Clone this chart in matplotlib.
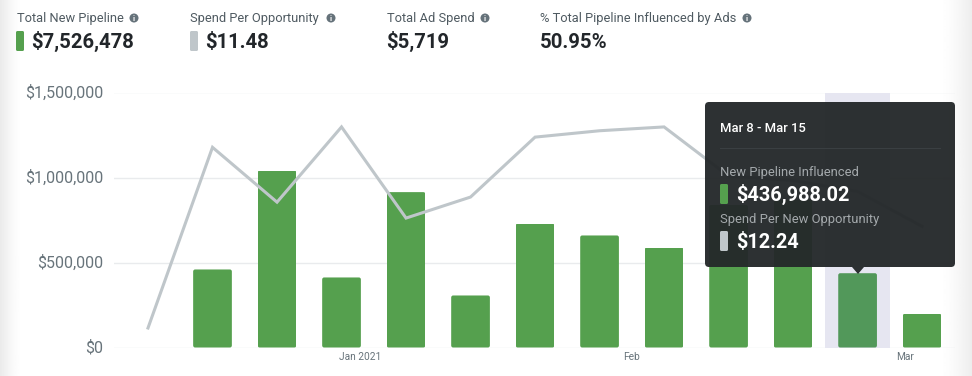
import matplotlib
matplotlib.use("Agg")
import matplotlib.pyplot as plt
from matplotlib.patches import FancyBboxPatch, Polygon, Circle
from matplotlib.transforms import ScaledTranslation
import numpy as np

plt.rcParams["font.family"] = ["Roboto", "DejaVu Sans"]

W, H = 972, 376

# weekly values, first week has no bar
pipeline = [0, 459000, 1041000, 412000, 914000, 306000, 729000, 659000, 588000, 838000, 868000, 436988, 198000]
spend = [1.53, 15.7, 11.4, 17.3, 10.15, 11.8, 16.5, 17.0, 17.3, 13.45, 13.1, 12.24, 9.5]
y_ticks = [0, 500000, 1000000, 1500000]
y_labels = ["$0", "$500,000", "$1,000,000", "$1,500,000"]
month_pos = [3.29, 7.5, 11.73]
month_labels = ["Jan 2021", "Feb", "Mar"]
selected = 11

GREEN = "#55a04e"
GREY = "#bfc6ca"
TEXT = "#68747b"

fig = plt.figure(figsize=(W / 100, H / 100), dpi=100, facecolor="white")

# soft shadow on both page edges
bg = fig.add_axes([0, 0, 1, 1], zorder=0)
edge = np.ones(W)
edge[:22] = 1 - 0.08 * np.linspace(1, 0, 22) ** 1.5
edge[938:] = 1 - 0.07 * np.linspace(0, 1, 34) ** 1.5
bg.imshow(edge[None, :], cmap="gray", vmin=0, vmax=1, aspect="auto", extent=(0, W, H, 0))
bg.axis("off")

ax = fig.add_axes([114 / W, 1 - 347.5 / H, (955 - 114) / W, 255 / H], zorder=1)
ax.patch.set_alpha(0)
x = np.arange(len(pipeline))
ax.set_xlim(-0.527, 12.51)
ax.set_ylim(0, 1500000)

ax.axvspan(selected - 0.5, selected + 0.5, color="#e6e6f1", lw=0, zorder=1)
bars = ax.bar(x, pipeline, width=0.6, color=GREEN, lw=0, zorder=2)
bars[selected].set_color("#52985a")
# data units per pixel, used to keep the bar corners round
per_px_x = 1 / 64.5
per_px_y = 1500000 / 255
for b in bars:
    if b.get_height() == 0:
        continue
    round_box = FancyBboxPatch((b.get_x(), 0), b.get_width(), b.get_height(),
                               boxstyle="round,pad=0,rounding_size=%f" % (2 * per_px_x),
                               mutation_aspect=per_px_y / per_px_x,
                               transform=ax.transData)
    b.set_clip_path(round_box)

ax.set_yticks(y_ticks)
ax.set_yticklabels(y_labels, color=TEXT, fontsize=11.5)
ax.set_xticks(month_pos)
ax.set_xticklabels(month_labels, color=TEXT, fontsize=7.3)
ax.tick_params(axis="both", length=0)
ax.tick_params(axis="y", pad=7.5)
ax.tick_params(axis="x", pad=3.5)
ax.grid(axis="y", color="#e9ebed", lw=1)
ax.set_axisbelow(True)
for s in ax.spines.values():
    s.set_visible(False)
# y labels sit a little above their gridlines
for lab in ax.get_yticklabels():
    lab.set_transform(lab.get_transform() + ScaledTranslation(0, 1.3 / 100, fig.dpi_scale_trans))

ax2 = ax.twinx()
ax2.set_ylim(0, 20)
ax2.plot(x, spend, color=GREY, lw=2.2, solid_joinstyle="miter", zorder=3)
ax2.axis("off")

# overlay in pixel coordinates for header and tooltip
top = fig.add_axes([0, 0, 1, 1], zorder=5)
top.set_xlim(0, W)
top.set_ylim(H, 0)
top.axis("off")


def swatch(px, py, color):
    top.add_patch(FancyBboxPatch((px, py), 8, 20, boxstyle="round,pad=0,rounding_size=1.5", fc=color, ec="none"))


def info(px, py):
    top.add_patch(Circle((px, py), 4.5, fc="#65727a", ec="none"))
    top.text(px, py + 0.2, "i", color="white", fontsize=5.5, fontweight="bold", ha="center", va="center")


headers = [(17, "Total New Pipeline", 134, "$7,526,478", 32, GREEN),
           (190, "Spend Per Opportunity", 331, "$11.48", 206, GREY),
           (387, "Total Ad Spend", 485, "$5,719", 387, None),
           (540, "% Total Pipeline Influenced by Ads", 747, "50.95%", 540, None)]
for lx, label, ix, value, vx, col in headers:
    top.text(lx, 22, label, color="#4f5a61", fontsize=9.3, va="baseline")
    info(ix, 18)
    top.text(vx - 0.5, 48, value, color="#22262a", fontsize=14.6, fontweight="bold", va="baseline")
    if col:
        swatch(lx - 1 if lx == 17 else lx, 31, col)

# tooltip
top.add_patch(FancyBboxPatch((705, 102), 250, 165, boxstyle="round,pad=0,rounding_size=4",
                             fc="#24282a", ec="none", alpha=0.96))
top.add_patch(Polygon([[852, 267], [864, 267], [858, 274]], fc="#24282a", ec="none", alpha=0.96))
top.plot([720, 940], [148, 148], color="#3a3f42", lw=0.8)
top.text(720, 132, "Mar 8 - Mar 15", color="white", fontsize=9.4, fontweight="medium", va="baseline")
top.text(720, 176, "New Pipeline Influenced", color="#a4a9ac", fontsize=9.35, va="baseline")
swatch(720, 184, GREEN)
top.text(736, 201, "$436,988.02", color="white", fontsize=14.3, fontweight="bold", va="baseline")
top.text(720, 223, "Spend Per New Opportunity", color="#a4a9ac", fontsize=9.35, va="baseline")
swatch(720, 231, GREY)
top.text(736, 248, "$12.24", color="white", fontsize=14.3, fontweight="bold", va="baseline")

fig.savefig("out.png", dpi=100)
